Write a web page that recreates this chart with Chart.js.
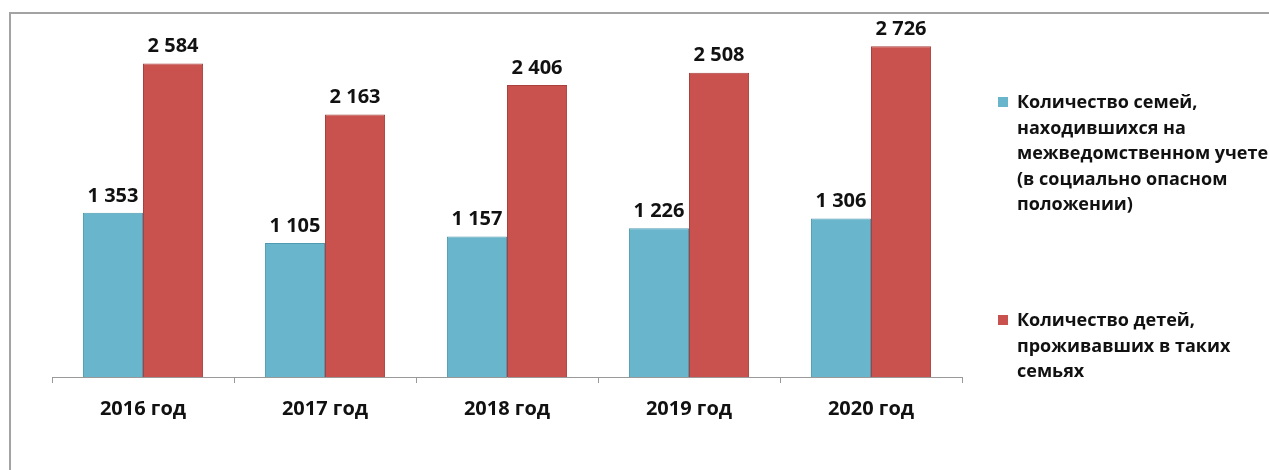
<!DOCTYPE html>
<html lang="ru">
<head>
<meta charset="utf-8">
<script src="https://cdn.jsdelivr.net/npm/chart.js@4.4.1/dist/chart.umd.min.js"></script>
<style>
    body { margin: 0; background: #fff; overflow: hidden; }
    #wrap { position: relative; width: 1269px; height: 470px; }
    #frame { position: absolute; left: 9px; top: 12px; width: 1300px; height: 500px;
             border-left: 2px solid #a3a3a3; border-top: 2px solid #a3a3a3; }
    .legend-item { position: absolute; left: 998px; font: bold 18px "Open Sans", sans-serif;
                   line-height: 25.5px; color: #111; white-space: nowrap; }
    .legend-item .box { position: absolute; left: 0; top: 8px; width: 10px; height: 10px; }
    .legend-item .txt { margin-left: 19px; }
</style>
</head>
<body>
<div id="wrap">
    <div id="frame"></div>
    <canvas id="chart" width="1269" height="470"></canvas>
    <div id="legend"></div>
</div>
<script>
// Data
const years = ["2016 год", "2017 год", "2018 год", "2019 год", "2020 год"];
const families = [1353, 1105, 1157, 1226, 1306];
const children = [2584, 2163, 2406, 2508, 2726];
const seriesNames = [
    ["Количество семей,", "находившихся на", "межведомственном учете", "(в социально опасном", "положении)"],
    ["Количество детей,", "проживавших в таких", "семьях"]
];
const colors = ["#69b5cb", "#c9524f"];
const borders = ["#4e9ab1", "#a9403d"];

// Build HTML legend (multi-line labels)
function buildLegend() {
    const legend = document.getElementById("legend");
    const tops = [89, 307];
    seriesNames.forEach((lines, i) => {
        const item = document.createElement("div");
        item.className = "legend-item";
        item.style.top = tops[i] + "px";
        const box = document.createElement("span");
        box.className = "box";
        box.style.background = colors[i];
        const txt = document.createElement("div");
        txt.className = "txt";
        txt.innerHTML = lines.join("<br>");
        item.appendChild(box);
        item.appendChild(txt);
        legend.appendChild(item);
    });
}

// Value labels above bars, "2 584" style
const valueLabels = {
    id: "valueLabels",
    afterDatasetsDraw(chart) {
        const ctx = chart.ctx;
        ctx.save();
        ctx.font = "bold 20px 'Open Sans', sans-serif";
        ctx.fillStyle = "#111";
        ctx.textAlign = "center";
        ctx.textBaseline = "bottom";
        chart.data.datasets.forEach((ds, i) => {
            chart.getDatasetMeta(i).data.forEach((bar, j) => {
                const txt = String(ds.data[j]).replace(/\B(?=(\d{3})+(?!\d))/g, " ");
                ctx.fillText(txt, bar.x, bar.y - 7);
            });
        });
        ctx.restore();
    }
};

function barGradient(i) {
    return (context) => {
        const chart = context.chart;
        const el = context.element;
        if (!chart.chartArea || !el || !el.width) return colors[i];
        const x0 = el.x - el.width / 2;
        const g = chart.ctx.createLinearGradient(x0, 0, x0 + el.width, 0);
        const shade = i === 0 ? ["#5aa6bc", "#6fbad0", "#6fbad0", "#5aa6bc"] : ["#b94643", "#cc5552", "#cc5552", "#b94643"];
        g.addColorStop(0, shade[0]);
        g.addColorStop(0.12, shade[1]);
        g.addColorStop(0.88, shade[2]);
        g.addColorStop(1, shade[3]);
        return g;
    };
}

function initChart() {
    const ctx = document.getElementById("chart").getContext("2d");
    new Chart(ctx, {
        type: "bar",
        data: {
            labels: years,
            datasets: [
                { label: seriesNames[0].join(" "), data: families, backgroundColor: barGradient(0),
                  borderColor: borders[0], borderWidth: 1, barPercentage: 1.0, categoryPercentage: 0.66 },
                { label: seriesNames[1].join(" "), data: children, backgroundColor: barGradient(1),
                  borderColor: borders[1], borderWidth: 1, barPercentage: 1.0, categoryPercentage: 0.66 }
            ]
        },
        options: {
            responsive: false,
            animation: false,
            layout: { padding: { left: 52, right: 307, top: 13, bottom: 0 } },
            plugins: { legend: { display: false }, tooltip: { enabled: false } },
            scales: {
                x: {
                    afterFit(scale) { scale.height = 93; },
                    grid: { offset: true, drawOnChartArea: false, drawTicks: true, tickLength: 6, color: "#9a9a9a" },
                    border: { display: true, color: "#9a9a9a", width: 1 },
                    ticks: { color: "#111", padding: 14, font: { family: "'Open Sans', sans-serif", size: 20, weight: "bold" } }
                },
                y: { display: false, min: 0, max: 3000 }
            }
        },
        plugins: [valueLabels]
    });
}

buildLegend();
initChart();
</script>
</body>
</html>
